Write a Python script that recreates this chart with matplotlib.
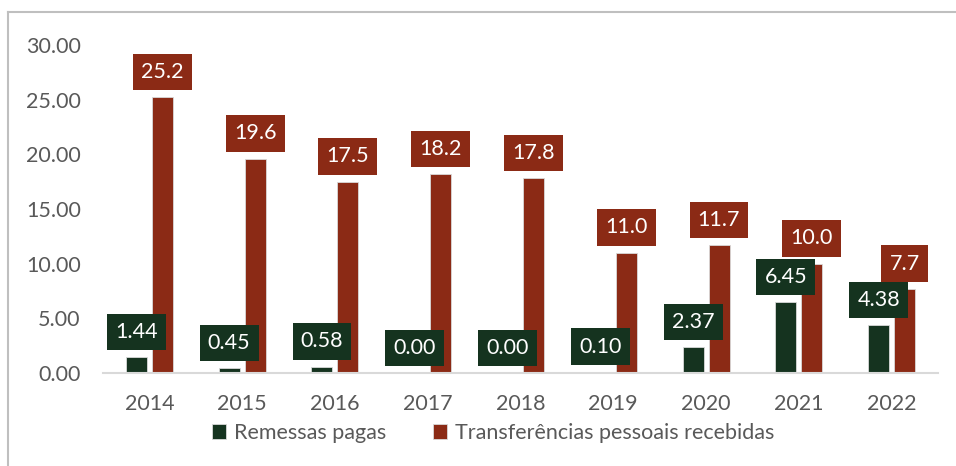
import matplotlib.pyplot as plt
from matplotlib.lines import Line2D
import numpy as np

plt.rcParams['font.family'] = ['Lato', 'DejaVu Sans']

anos = ['2014', '2015', '2016', '2017', '2018', '2019', '2020', '2021', '2022']
remessas = [1.44, 0.45, 0.58, 0.00, 0.00, 0.10, 2.37, 6.45, 4.38]
transferencias = [25.2, 19.6, 17.5, 18.2, 17.8, 11.0, 11.7, 10.0, 7.7]

verde = '#15331f'
vermelho = '#8b2a15'
cinza = '#595959'
fs = 15.5

fig = plt.figure(figsize=(9.56, 4.66), dpi=100)
ax = fig.add_axes([103/956, 1 - 373/466, 835/956, 328/466])

x = np.arange(len(anos))
larg = 0.226
desl = 0.14

b1 = ax.bar(x - desl, remessas, larg, color=verde, edgecolor='#d9d9d9', linewidth=0.6,
            label='Remessas pagas')
b2 = ax.bar(x + desl, transferencias, larg, color=vermelho, edgecolor='#d9d9d9', linewidth=0.6,
            label='Transferências pessoais recebidas')

# rotulos com caixa
for xi, v in zip(x - desl, remessas):
    ax.annotate(f'{v:.2f}', (xi, v), xytext=(0, 11), textcoords='offset points',
                ha='center', va='bottom', color='white', fontsize=fs,
                bbox=dict(boxstyle='square,pad=0.38', fc=verde, ec='none'))
for xi, v in zip(x + desl, transferencias):
    ax.annotate(f'{v:.1f}', (xi, v), xytext=(0, 11), textcoords='offset points',
                ha='center', va='bottom', color='white', fontsize=fs,
                bbox=dict(boxstyle='square,pad=0.38', fc=vermelho, ec='none'))

ax.set_xlim(-0.5, 8.5)
ax.set_ylim(0, 30)
ax.set_yticks(np.arange(0, 31, 5))
ax.set_yticklabels([f'{t:.2f}' for t in np.arange(0, 31, 5)])
ax.set_xticks(x)
ax.set_xticklabels(anos)
ax.tick_params(axis='both', length=0, labelsize=fs, labelcolor=cinza)
ax.tick_params(axis='y', pad=16)
ax.tick_params(axis='x', pad=15)

for s in ['top', 'right', 'left']:
    ax.spines[s].set_visible(False)
ax.spines['bottom'].set_color('#d9d9d9')
ax.spines['bottom'].set_linewidth(1.5)

fig.legend(handles=[b1, b2], loc='center', bbox_to_anchor=(493/956, 1 - 433/466),
           ncol=2, frameon=False, fontsize=fs, labelcolor=cinza,
           handlelength=0.65, handleheight=0.65, handletextpad=0.35, columnspacing=2.2)

# moldura
fig.add_artist(Line2D([8/956, 8/956], [0, 1 - 12/466], color='#bfbfbf', lw=1.5,
                      transform=fig.transFigure))
fig.add_artist(Line2D([8/956, 1], [1 - 12/466, 1 - 12/466], color='#bfbfbf', lw=1.5,
                      transform=fig.transFigure))

fig.savefig('out.png', dpi=100)
